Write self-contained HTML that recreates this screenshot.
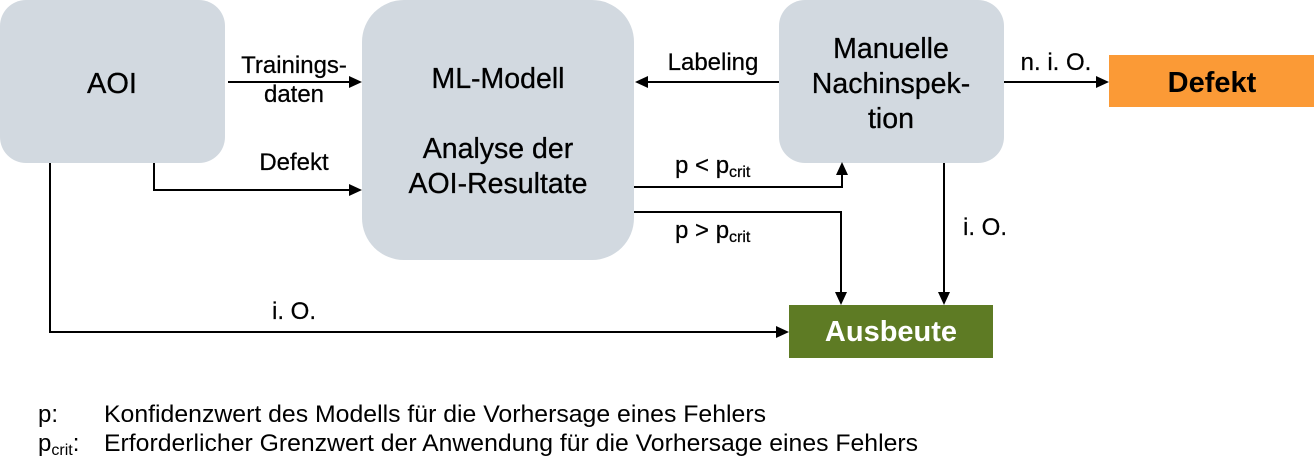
<!DOCTYPE html>
<html>
<head>
<meta charset="utf-8">
<style>
  html,body{margin:0;padding:0;background:#fff;}
  svg{display:block;}
  text{font-family:"Liberation Sans",Arial,sans-serif;fill:#000;}
</style>
</head>
<body>
<svg width="1314" height="475" viewBox="0 0 1314 475" xmlns="http://www.w3.org/2000/svg">
  <!-- boxes -->
  <rect x="0" y="0" width="225" height="163" rx="26" ry="26" fill="#D2D9E0"/>
  <rect x="362" y="0" width="272" height="260" rx="42" ry="42" fill="#D2D9E0"/>
  <rect x="779" y="0" width="225" height="163" rx="26" ry="26" fill="#D2D9E0"/>
  <rect x="1109" y="55" width="205" height="52" fill="#FB9A36"/>
  <rect x="789" y="305" width="204" height="53" fill="#5E7B24"/>

  <!-- connectors -->
  <g stroke="#000" stroke-width="2" fill="none">
    <path d="M228,82 H350"/>
    <path d="M154,163 V190 H350"/>
    <path d="M779,82 H647"/>
    <path d="M1004,82 H1098"/>
    <path d="M634,187 H842 V174"/>
    <path d="M634,212 H841 V294"/>
    <path d="M944,163 V294"/>
    <path d="M50,163 V332 H778"/>
  </g>
  <!-- arrowheads -->
  <g fill="#000">
    <polygon points="362,82 349,76 349,88"/>
    <polygon points="362,190 349,184 349,196"/>
    <polygon points="635,82 648,76 648,88"/>
    <polygon points="1109,82 1096,76 1096,88"/>
    <polygon points="842,162 836,175 848,175"/>
    <polygon points="841,305 835,292 847,292"/>
    <polygon points="944,305 938,292 950,292"/>
    <polygon points="789,332 776,326 776,338"/>
  </g>

  <!-- box texts -->
  <g stroke="#000" stroke-width="0.3">
  <text x="112" y="93" font-size="29" text-anchor="middle">AOI</text>
  <text x="498" y="88" font-size="28.5" text-anchor="middle">ML-Modell</text>
  <text x="498" y="158" font-size="28.5" text-anchor="middle">Analyse der</text>
  <text x="498" y="193" font-size="28.5" text-anchor="middle">AOI-Resultate</text>
  <text x="891" y="58" font-size="28.5" text-anchor="middle">Manuelle</text>
  <text x="891" y="93" font-size="28.5" text-anchor="middle">Nachinspek-</text>
  <text x="891" y="128" font-size="28.5" text-anchor="middle">tion</text>
  </g>
  <text x="1212" y="92" font-size="29" font-weight="bold" text-anchor="middle">Defekt</text>
  <text x="891" y="341" font-size="29" font-weight="bold" text-anchor="middle" style="fill:#fff">Ausbeute</text>

  <!-- connector labels -->
  <g stroke="#000" stroke-width="0.25">
  <text x="294" y="73" font-size="24" text-anchor="middle">Trainings-</text>
  <text x="294" y="102" font-size="24" text-anchor="middle">daten</text>
  <text x="294" y="170" font-size="24" text-anchor="middle">Defekt</text>
  <text x="713" y="70" font-size="24" text-anchor="middle">Labeling</text>
  <text x="1056" y="70" font-size="24" text-anchor="middle">n. i. O.</text>
  <text x="675" y="173" font-size="24">p &lt; p<tspan font-size="16" dy="4">crit</tspan></text>
  <text x="675" y="238" font-size="24">p &gt; p<tspan font-size="16" dy="4">crit</tspan></text>
  <text x="963" y="235" font-size="24">i. O.</text>
  <text x="294" y="319" font-size="24" text-anchor="middle">i. O.</text>
  </g>

  <!-- legend -->
  <text x="38" y="422" font-size="24">p:</text>
  <text x="104" y="422" font-size="24" textLength="662" lengthAdjust="spacingAndGlyphs">Konfidenzwert des Modells für die Vorhersage eines Fehlers</text>
  <text x="38" y="451" font-size="24">p<tspan font-size="16" dy="4">crit</tspan><tspan dy="-4">:</tspan></text>
  <text x="104" y="451" font-size="24" textLength="814" lengthAdjust="spacingAndGlyphs">Erforderlicher Grenzwert der Anwendung für die Vorhersage eines Fehlers</text>
</svg>
</body>
</html>
